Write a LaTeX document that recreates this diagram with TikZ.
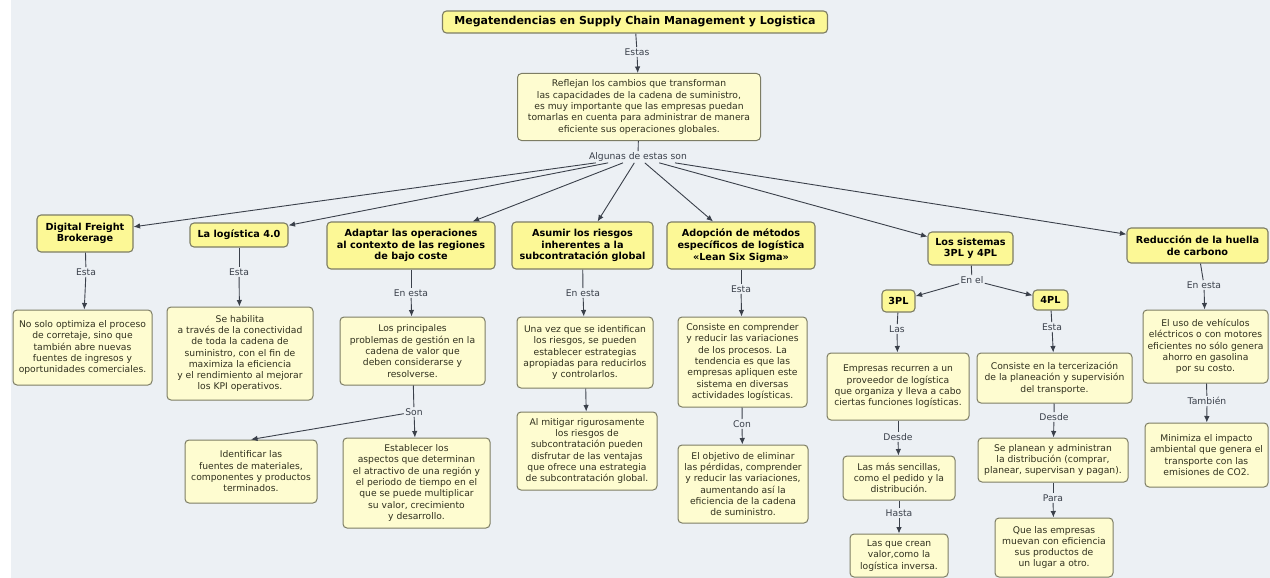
\documentclass[tikz,border=0pt]{standalone}
\usepackage{fontspec}
\setmainfont{DejaVu Sans}
\usetikzlibrary{arrows.meta}

\definecolor{pagebg}{RGB}{236,240,244}
\definecolor{headfill}{RGB}{252,248,150}
\definecolor{notefill}{RGB}{254,252,208}
\definecolor{boxline}{RGB}{125,125,100}
\definecolor{linkcol}{RGB}{58,64,74}
\definecolor{inkcol}{RGB}{48,48,30}

\tikzset{
  sz/.style 2 args={minimum width=#1pt, minimum height=#2pt},
  head/.style={draw=boxline, line width=1.1pt, fill=headfill, rounded corners=4pt,
    align=center, inner sep=1.5pt, text=black,
    font=\fontsize{9.7}{11.7}\selectfont\bfseries},
  note/.style={draw=boxline, line width=1pt, fill=notefill, rounded corners=4pt,
    align=center, inner sep=1.5pt, text=inkcol,
    font=\fontsize{9.2}{11.3}\selectfont},
  lbl/.style={fill=pagebg, inner sep=1.2pt, text=linkcol,
    font=\fontsize{9.2}{10}\selectfont},
  link/.style={draw=linkcol, line width=0.9pt},
  arr/.style={link, -{Latex[length=6.5pt,width=5.5pt]}},
}

\begin{document}
\begin{tikzpicture}[x=1pt, y=-1pt]
  \useasboundingbox (0,0) rectangle (1270,578);
  \fill[white] (0,0) rectangle (1270,578);
  \fill[pagebg] (11,0) rectangle (1270,578);

  % --- root and its summary
  \node[head, sz={385}{22}, font=\fontsize{11}{13}\selectfont\bfseries] (title) at (635,22)
    {Megatendencias en Supply Chain Management y Logistica};
  \node[lbl] (estas) at (637,52) {Estas};
  \node[note, sz={243}{67}] (intro) at (639,107)
    {Reflejan los cambios que transforman\\las capacidades de la cadena de suministro,\\es muy importante que las empresas puedan\\tomarlas en cuenta para administrar de manera\\eficiente sus operaciones globales.};
  \node[lbl] (al) at (638,157) {Algunas de estas son};

  % --- the seven trends
  \node[head, sz={96}{37}] (dfb) at (85,233.5) {Digital Freight\\Brokerage};
  \node[head, sz={98}{24}] (ll) at (239,235) {La logística 4.0};
  \node[head, sz={168}{47}] (ad) at (411,245.5) {Adaptar las operaciones\\al contexto de las regiones\\de bajo coste};
  \node[head, sz={141}{47}] (as) at (582.5,245.5) {Asumir los riesgos\\inherentes a la\\subcontratación global};
  \node[head, sz={148}{47}] (lss) at (741,245.5) {Adopción de métodos\\específicos de logística\\«Lean Six Sigma»};
  \node[head, sz={85}{33}] (sys) at (970.5,248.5) {Los sistemas\\3PL y 4PL};
  \node[head, sz={141}{35}] (red) at (1197.5,245.5) {Reducción de la huella\\de carbono};

  % --- Digital Freight Brokerage
  \node[lbl] (dfbL) at (86,272) {Esta};
  \node[note, sz={139}{75}] (dfbN) at (82.5,347.5)
    {No solo optimiza el proceso\\de corretaje, sino que\\también abre nuevas\\fuentes de ingresos y\\oportunidades comerciales.};

  % --- Logística 4.0
  \node[lbl] (llL) at (239,272) {Esta};
  \node[note, sz={146}{93}] (llN) at (240,353.5)
    {Se habilita\\a través de la conectividad\\de toda la cadena de\\suministro, con el fin de\\maximiza la eficiencia\\y el rendimiento al mejorar\\los KPI operativos.};

  % --- Regiones de bajo coste
  \node[lbl] (adL) at (411,293) {En esta};
  \node[note, sz={145}{68}] (adN) at (412.5,351)
    {Los principales\\problemas de gestión en la\\cadena de valor que\\deben considerarse y\\resolverse.};
  \node[lbl] (son) at (414,412) {Son};
  \node[note, sz={132}{63}] (idN) at (251,471.5)
    {Identificar las\\fuentes de materiales,\\componentes y productos\\terminados.};
  \node[note, sz={147}{90}] (esN) at (416.5,483)
    {Establecer los\\aspectos que determinan\\el atractivo de una región y\\el periodo de tiempo en el\\que se puede multiplicar\\su valor, crecimiento\\y desarrollo.};

  % --- Subcontratación global
  \node[lbl] (asL) at (583,293) {En esta};
  \node[note, sz={136}{71}] (asN) at (585,352.5)
    {Una vez que se identifican\\los riesgos, se pueden\\establecer estrategias\\apropiadas para reducirlos\\y controlarlos.};
  \node[note, sz={140}{78}] (asN2) at (587,451)
    {Al mitigar rigurosamente\\los riesgos de\\subcontratación pueden\\disfrutar de las ventajas\\que ofrece una estrategia\\de subcontratación global.};

  % --- Lean Six Sigma
  \node[lbl] (lssL) at (741,289) {Esta};
  \node[note, sz={129}{90}] (lssN) at (742.5,362)
    {Consiste en comprender\\y reducir las variaciones\\de los procesos. La\\tendencia es que las\\empresas apliquen este\\sistema en diversas\\actividades logísticas.};
  \node[lbl] (con) at (742,424) {Con};
  \node[note, sz={130}{78}] (lssN2) at (743,484)
    {El objetivo de eliminar\\las pérdidas, comprender\\y reducir las variaciones,\\aumentando así la\\eficiencia de la cadena\\de suministro.};

  % --- 3PL y 4PL
  \node[lbl] (sysL) at (972,280) {En el};
  \node[head, sz={33}{22}] (tpl) at (898.5,301) {3PL};
  \node[head, sz={35}{20}] (fpl) at (1050.5,300) {4PL};
  \node[lbl] (tplL) at (897,329) {Las};
  \node[note, sz={142}{67}] (tplN) at (898,386.5)
    {Empresas recurren a un\\proveedor de logística\\que organiza y lleva a cabo\\ciertas funciones logísticas.};
  \node[lbl] (tplD) at (898,437) {Desde};
  \node[note, sz={112}{44}] (tplN2) at (899,478)
    {Las más sencillas,\\como el pedido y la\\distribución.};
  \node[lbl] (tplH) at (899,513) {Hasta};
  \node[note, sz={98}{43}] (tplN3) at (899,555.5)
    {Las que crean\\valor,como la\\logística inversa.};
  \node[lbl] (fplL) at (1052,327) {Esta};
  \node[note, sz={155}{50}] (fplN) at (1054.5,378)
    {Consiste en la tercerización\\de la planeación y supervisión\\del transporte.};
  \node[lbl] (fplD) at (1054,417) {Desde};
  \node[note, sz={150}{44}] (fplN2) at (1053,460)
    {Se planean y administran\\la distribución (comprar,\\planear, supervisan y pagan).};
  \node[lbl] (fplP) at (1053,498) {Para};
  \node[note, sz={118}{59}] (fplN3) at (1054,547.5)
    {Que las empresas\\muevan con eficiencia\\sus productos de\\un lugar a otro.};

  % --- Huella de carbono
  \node[lbl] (redL) at (1204,285) {En esta};
  \node[note, sz={125}{73}] (redN) at (1205.5,346.5)
    {El uso de vehículos\\eléctricos o con motores\\eficientes no sólo genera\\ahorro en gasolina\\por su costo.};
  \node[lbl] (redT) at (1207,401) {También};
  \node[note, sz={123}{64}] (redN2) at (1206.5,455)
    {Minimiza el impacto\\ambiental que genera el\\transporte con las\\emisiones de CO2.};

  % --- connectors
  \draw[link] (title) -- (estas);
  \draw[arr] (estas) -- (intro);
  \draw[link] (intro) -- (al);
  \foreach \t in {dfb,ll,ad,as,lss,sys,red} \draw[arr] (al) -- (\t);

  \draw[link] (dfb) -- (dfbL);  \draw[arr] (dfbL) -- (dfbN);
  \draw[link] (ll) -- (llL);    \draw[arr] (llL) -- (llN);
  \draw[link] (ad) -- (adL);    \draw[arr] (adL) -- (adN);
  \draw[link] (adN) -- (son);
  \draw[arr] (son) -- (idN.north);
  \draw[arr] (son) -- (esN);
  \draw[link] (as) -- (asL);    \draw[arr] (asL) -- (asN);
  \draw[arr] (asN) -- (asN2);
  \draw[link] (lss) -- (lssL);  \draw[arr] (lssL) -- (lssN);
  \draw[link] (lssN) -- (con);  \draw[arr] (con) -- (lssN2);

  \draw[link] (sys) -- (sysL);
  \draw[arr] (sysL) -- (tpl);
  \draw[arr] (sysL) -- (fpl);
  \draw[link] (tpl) -- (tplL);    \draw[arr] (tplL) -- (tplN);
  \draw[link] (tplN) -- (tplD);   \draw[arr] (tplD) -- (tplN2);
  \draw[link] (tplN2) -- (tplH);  \draw[arr] (tplH) -- (tplN3);
  \draw[link] (fpl) -- (fplL);    \draw[arr] (fplL) -- (fplN);
  \draw[link] (fplN) -- (fplD);   \draw[arr] (fplD) -- (fplN2);
  \draw[link] (fplN2) -- (fplP);  \draw[arr] (fplP) -- (fplN3);

  \draw[link] (red) -- (redL);    \draw[arr] (redL) -- (redN);
  \draw[link] (redN) -- (redT);   \draw[arr] (redT) -- (redN2);
\end{tikzpicture}
\end{document}
